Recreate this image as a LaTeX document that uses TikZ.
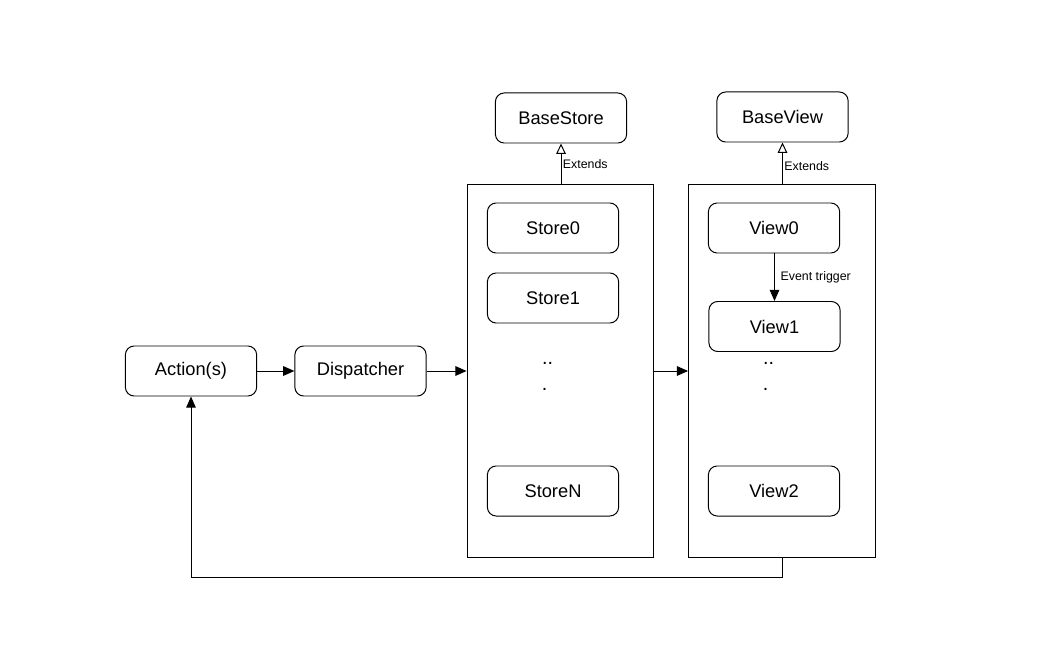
\documentclass[tikz,border=0pt]{standalone}
\usepackage{fontspec}
\setmainfont{Liberation Sans}
\usetikzlibrary{arrows.meta}
\tikzset{
    box/.style={draw, rounded corners=2.2mm, minimum width=3.28cm, minimum height=1.25cm, font=\fontsize{13}{15}\selectfont, line width=0.7pt},
    frame/.style={draw, minimum width=4.67cm, minimum height=9.3cm, line width=0.7pt},
    flow/.style={-{Triangle[length=2.8mm,width=2.4mm]}, line width=0.7pt},
    ext/.style={-{Triangle[open,length=2.6mm,width=2.4mm]}, line width=0.7pt},
    lbl/.style={font=\fontsize{8.8}{10}\selectfont, inner sep=1pt},
    dots/.style={anchor=base, font=\fontsize{14}{15}\selectfont, inner sep=0pt}
}
\begin{document}
\begin{tikzpicture}[x=0.025cm,y=-0.025cm]
                \useasboundingbox (0,0) rectangle (1058,662);
                \node[box] (act) at (191,371) {Action(s)};
                \node[box] (disp) at (360.5,371) {Dispatcher};
                \node[frame] (stores) at (560.5,371) {};
                \node[frame] (views) at (782,371) {};
                \node[box] (bstore) at (561,118) {BaseStore};
                \node[box] (bview) at (782.5,117) {BaseView};
                \node[box] (store0) at (553,228) {Store0};
                \node[box] (store1) at (553,298) {Store1};
                \node[box] (storen) at (553,491) {StoreN};
                \node[box] (view0) at (774,228) {View0};
                \node[box] (view1) at (774.5,326.5) {View1};
                \node[box] (view2) at (774,491) {View2};
                \node[dots] (sdots) at (547.5,364) {..};
                \node[dots] (sdot) at (544.5,390) {.};
                \node[dots] (vdots) at (768.5,364) {..};
                \node[dots] (vdot) at (765.5,390) {.};
                \draw[flow] (act) -- (disp);
                \draw[flow] (disp) -- (stores);
                \draw[flow] (stores) -- (views);
                \draw[ext] (bstore.south |- stores.north) -- (bstore.south) node[lbl, midway, right] {Extends};
                \draw[ext] (bview.south |- views.north) -- (bview.south) node[lbl, midway, right, yshift=-2pt] {Extends};
                \draw[flow] (view0.south -| view1.north) -- (view1.north) node[lbl, midway, right, xshift=3pt] {Event trigger};
                \draw[flow] (views.south) -- ++(0,20) -| (act.south);
            \end{tikzpicture}
\end{document}
